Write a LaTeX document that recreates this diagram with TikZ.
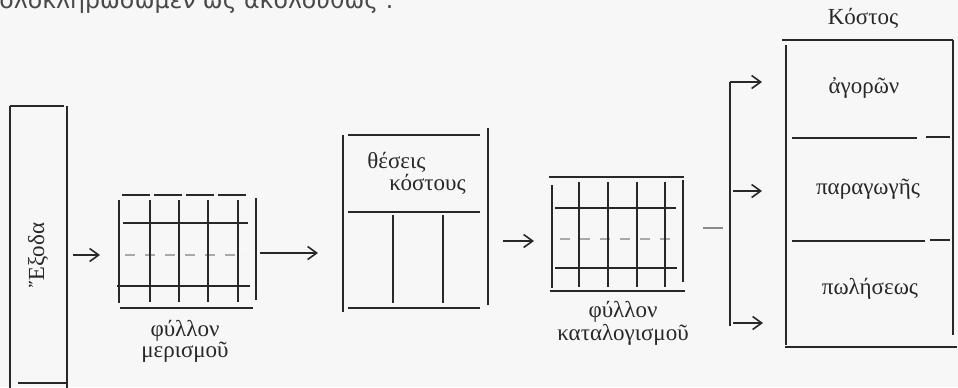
\documentclass[tikz,border=0pt]{standalone}
\usepackage{fontspec}
\setmainfont{Liberation Serif}
\newfontfamily\topfont{DejaVu Sans}
\usetikzlibrary{arrows.meta,fit}
\definecolor{ink}{RGB}{40,40,40}
\definecolor{paper}{RGB}{247,247,247}
\begin{document}
\begin{tikzpicture}[x=0.5pt,y=-0.5pt,
  ln/.style={draw=ink,line width=0.8pt},
  thk/.style={draw=ink,line width=1.1pt},
  faint/.style={draw=ink!40,line width=0.7pt,dash pattern=on 5pt off 5pt},
  arr/.style={draw=ink,line width=0.8pt,-{Straight Barb[length=4.5pt,width=6.5pt,line width=0.8pt]}},
  anchorbox/.style={draw=none,inner sep=0pt,outer sep=0pt},
  lbl/.style={text=ink,inner sep=0pt,font=\fontsize{11.5}{13}\selectfont}]
\fill[paper] (0,0) rectangle (958,387);
\useasboundingbox (0,0) rectangle (958,387);
\clip (0,0) rectangle (958,387);

% intro line (cut off by the page edge)
\node[anchor=base west,inner sep=0pt,text=ink!85,font=\topfont\fontsize{11.8}{14}\selectfont] (intro) at (-1,8) {ὁλοκληρώσωμεν ὡς ἀκολούθως :};

% anchor nodes for the boxes
\node[anchorbox,fit={(10,106)(67,383)}] (exoda) {};
\node[anchorbox,fit={(119,195)(256,308)}] (alloc) {};
\node[anchorbox,fit={(343,135)(488,308)}] (centers) {};
\node[anchorbox,fit={(552,177)(683,291)}] (ledger) {};
\node[anchorbox,fit={(786,40)(953,347)}] (cost) {};

% Exoda box
\draw[ln] (10,106) -- (10,392);
\draw[ln] (67,106) -- (67,392);
\draw[ln] (10,106) -- (64,106);
\draw[ln] (18,383) -- (67,383);
\node[lbl,rotate=90] (exodatxt) at (38,255) {Ἔξοδα};

% allocation sheet (grid 1)
\draw[thk] (119,200) -- (119,303);
\draw[thk] (256,198) -- (256,300);
\draw[ln,dash pattern=on 14pt off 2pt] (122,195) -- (246,195);
\draw[thk] (120,308) -- (253,308);
\draw[ln] (123,223) -- (248,223);
\draw[faint] (125,255) -- (245,255);
\draw[ln] (117,286) -- (250,286);
\foreach \x in {150,179,208,238} \draw[ln] (\x,200) -- (\x,302);
\node[lbl] (alloc1) at (185,331) {φύλλον};
\node[lbl] (alloc2) at (185,352) {μερισμοῦ};

% cost centres box
\draw[ln] (343,135) -- (343,312);
\draw[ln] (488,128) -- (488,305);
\draw[ln] (348,135) -- (480,135);
\draw[ln] (348,212) -- (480,212);
\draw[ln] (348,308) -- (480,308);
\draw[ln] (393,215) -- (393,303);
\draw[ln] (443,215) -- (443,303);
\node[lbl,anchor=west] (cent1) at (367,162) {θέσεις};
\node[lbl,anchor=west] (cent2) at (389,184) {κόστους};

% costing sheet (grid 2)
\draw[thk] (552,185) -- (552,288);
\draw[thk] (683,180) -- (683,282);
\draw[ln] (549,177) -- (684,177);
\draw[ln] (550,291) -- (685,291);
\draw[ln] (555,208) -- (676,208);
\draw[faint] (560,239) -- (676,239);
\draw[ln] (555,268) -- (677,268);
\foreach \x in {579,608,637,665} \draw[ln] (\x,182) -- (\x,287);
\node[lbl] (ledg1) at (623,312) {φύλλον};
\node[lbl] (ledg2) at (623,335) {καταλογισμοῦ};

% cost box
\draw[ln] (786,45) -- (786,345);
\draw[ln] (953,40) -- (953,335);
\draw[ln] (782,40) -- (953,40);
\draw[ln] (785,347) -- (957,347);
\draw[ln] (792,138) -- (917,138);
\draw[ln] (926,137) -- (950,137);
\draw[ln] (792,241) -- (925,241);
\draw[ln] (930,240) -- (950,240);
\node[lbl] (kostos) at (863,18) {Κόστος};
\node[lbl] (agoron) at (864,88) {ἀγορῶν};
\node[lbl] (paragog) at (868,189) {παραγωγῆς};
\node[lbl] (poliseos) at (870,289) {πωλήσεως};

% connectors
\coordinate (r1) at (0,255);
\coordinate (r2) at (0,253);
\coordinate (r3) at (0,241);
\coordinate (r4) at (0,228);
\coordinate (btop) at (730,82);
\coordinate (bmid) at (730,191);
\coordinate (bbot) at (730,323);
\coordinate (bend) at (730,326);
\draw[arr,shorten <=3pt,shorten >=9.5pt] (exoda.east |- r1) -- (alloc.west |- r1);
\draw[arr,shorten <=2pt,shorten >=12.5pt] (alloc.east |- r2) -- (centers.west |- r2);
\draw[arr,shorten <=7.5pt,shorten >=9pt] (centers.east |- r3) -- (ledger.west |- r3);
\draw[draw=ink!55,line width=0.7pt,shorten <=10pt,shorten >=3.5pt] (ledger.east |- r4) -- (btop |- r4);
\draw[ln] (btop) -- (bend);
\draw[arr,shorten >=12pt] (btop) -- (cost.west |- btop);
\draw[arr,shorten <=1.5pt,shorten >=12pt] (bmid) -- (cost.west |- bmid);
\draw[arr,shorten <=1.5pt,shorten >=11.5pt] (bbot) -- (cost.west |- bbot);
\end{tikzpicture}
\end{document}
